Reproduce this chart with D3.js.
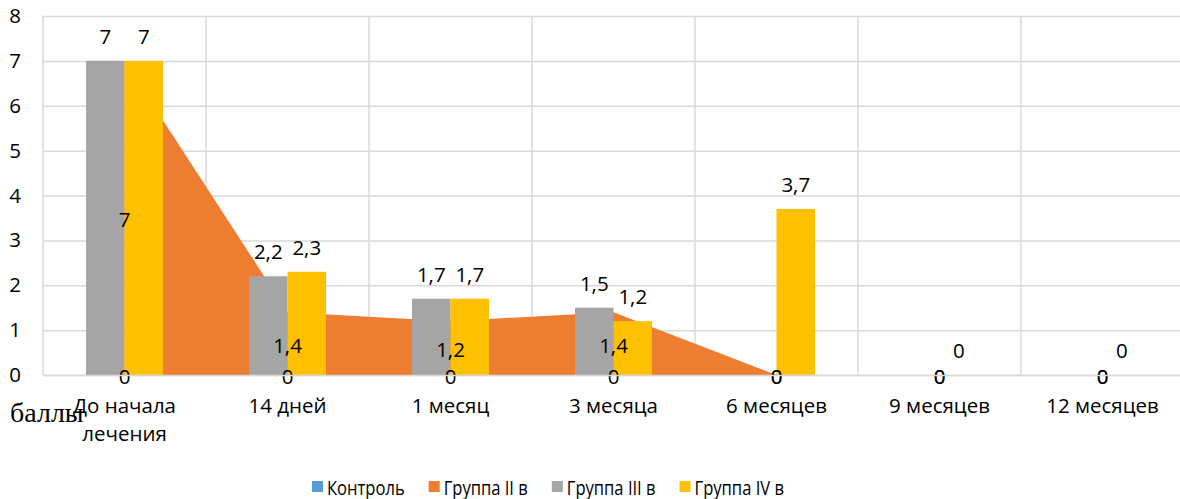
<!DOCTYPE html>
<html>
<head>
<meta charset="utf-8">
<script src="https://cdn.jsdelivr.net/npm/d3@7"></script>
<style>
  body { margin: 0; background: #fff; }
  svg { display: block; font-family: "Open Sans", sans-serif; }
</style>
</head>
<body>
<svg id="chart" width="1180" height="499"></svg>
<script>
// категории и ряды
const categories = ["До начала лечения", "14 дней", "1 месяц", "3 месяца", "6 месяцев", "9 месяцев", "12 месяцев"];
const yTicks = [0, 1, 2, 3, 4, 5, 6, 7, 8];
const kontrol = [0, 0, 0, 0, 0, 0, 0];
const group2 = [7, 1.4, 1.2, 1.4, 0, 0, 0];
const group3 = [7, 2.2, 1.7, 1.5, null, null, null];
const group4 = [7, 2.3, 1.7, 1.2, 3.7, 0, 0];
const seriesNames = ["Контроль", "Группа II в", "Группа III в", "Группа IV в"];
const colors = ["#5B9BD5", "#ED7D31", "#A5A5A5", "#FFC000"];

const svg = d3.select("#chart");
const pLeft = 43, pRight = 1184, pTop = 16, pBottom = 375;
const barW = 38.5;
const fs = 20.5;

const x = d3.scaleBand().domain(categories).range([pLeft, pRight]).padding(0);
const y = d3.scaleLinear().domain([0, 8]).range([pBottom, pTop]);
const cx = d => x(d) + x.bandwidth() / 2;
const fmt = v => String(v).replace(".", ",");

// сетка
const grid = svg.append("g");
grid.append("g")
  .attr("transform", `translate(${pLeft},0)`)
  .call(d3.axisLeft(y).tickValues(yTicks).tickSize(-(pRight - pLeft)).tickFormat(""))
  .call(g => g.select(".domain").remove())
  .call(g => g.selectAll("line").attr("stroke", "#d9d9d9").attr("stroke-width", 1.5));
grid.selectAll(".vline")
  .data(categories.concat([null]))
  .enter()
  .append("line")
  .attr("x1", d => d === null ? pRight : x(d))
  .attr("x2", d => d === null ? pRight : x(d))
  .attr("y1", pTop)
  .attr("y2", pBottom)
  .attr("stroke", "#d9d9d9")
  .attr("stroke-width", 1.5);

// подписи оси Y
svg.append("g")
  .attr("transform", `translate(${pLeft},0)`)
  .call(d3.axisLeft(y).tickValues(yTicks).tickSize(0).tickPadding(22))
  .call(g => g.select(".domain").remove())
  .call(g => g.selectAll("text").attr("font-size", fs).attr("fill", "#000").attr("font-family", "Open Sans"));

// области (Контроль и Группа II)
const area = d3.area()
  .x((d, i) => cx(categories[i]))
  .y0(y(0))
  .y1(d => y(d));
svg.append("path").datum(kontrol).attr("d", area).attr("fill", colors[0]);
svg.append("path").datum(group2).attr("d", area).attr("fill", colors[1]);

// столбцы
const bars = [
  { data: group3, off: -barW, color: colors[2] },
  { data: group4, off: 0, color: colors[3] }
];
bars.forEach(s => {
  svg.append("g").selectAll("rect")
    .data(s.data.map((v, i) => ({ v, c: categories[i] })).filter(d => d.v !== null))
    .enter()
    .append("rect")
    .attr("x", d => cx(d.c) + s.off)
    .attr("y", d => y(d.v))
    .attr("width", barW)
    .attr("height", d => y(0) - y(d.v))
    .attr("fill", s.color);
});

// подписи значений
const lab = svg.append("g").attr("font-size", fs).attr("fill", "#000").attr("text-anchor", "middle");
[kontrol, group2].forEach(arr => {
  lab.selectAll(null)
    .data(arr.map((v, i) => ({ v, c: categories[i] })))
    .enter()
    .append("text")
    .attr("x", d => cx(d.c))
    .attr("y", d => y(d.v / 2) + 2)
    .attr("dy", "0.35em")
    .text(d => fmt(d.v));
});
bars.forEach(s => {
  lab.selectAll(null)
    .data(s.data.map((v, i) => ({ v, c: categories[i] })).filter(d => d.v !== null))
    .enter()
    .append("text")
    .attr("x", d => cx(d.c) + s.off + barW / 2)
    .attr("y", d => y(d.v) - 24)
    .attr("dy", "0.35em")
    .text(d => fmt(d.v));
});

// подписи категорий
const xAxis = svg.append("g")
  .attr("transform", `translate(0,${pBottom})`)
  .call(d3.axisBottom(x).tickSize(0).tickPadding(0).tickFormat(""))
  .call(g => g.select(".domain").attr("stroke", "#d9d9d9").attr("stroke-width", 1.5));
xAxis.selectAll(".tick").append("text")
  .attr("font-size", fs)
  .attr("fill", "#000")
  .attr("font-family", "Open Sans")
  .attr("text-anchor", "middle")
  .each(function (d) {
    const t = d3.select(this);
    const words = d.split(" ");
    const lines = d.length > 12 ? [words.slice(0, 2).join(" "), words.slice(2).join(" ")] : [d];
    lines.forEach((ln, i) => t.append("tspan").attr("x", 0).attr("y", 38 + i * 28).text(ln));
  });

// подпись "баллы"
svg.append("text")
  .attr("x", 10)
  .attr("y", 422)
  .attr("font-family", "Liberation Serif, Times New Roman, serif")
  .attr("font-size", 28)
  .text("баллы");

// легенда
const leg = svg.append("g").attr("transform", "translate(312,0)");
let lx = 0;
seriesNames.forEach((n, i) => {
  const g = leg.append("g").attr("transform", `translate(${lx},0)`);
  g.append("rect").attr("x", 0).attr("y", 481).attr("width", 11).attr("height", 11).attr("fill", colors[i]);
  const t = g.append("text")
    .attr("transform", "translate(15,495) scale(0.85,1)")
    .attr("font-size", 19.5)
    .attr("fill", "#000")
    .text(n);
  lx += 15 + t.node().getComputedTextLength() * 0.85 + 24;
});
</script>
</body>
</html>
